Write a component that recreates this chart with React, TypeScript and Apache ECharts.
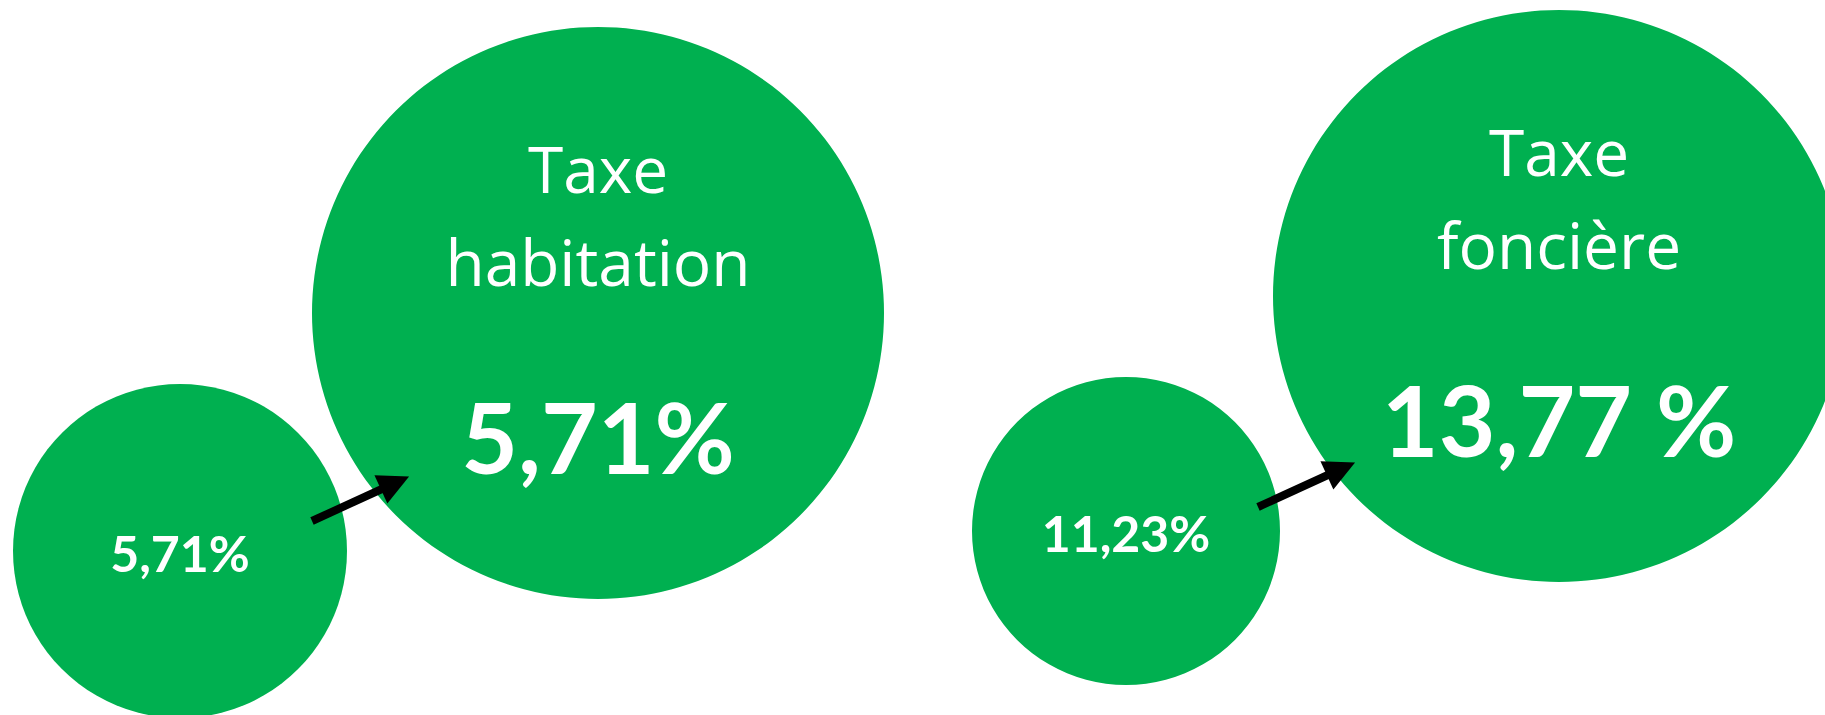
import React, { useEffect, useRef } from "react";
import * as echarts from "echarts";

// ---- data ----
const categories = ["Taxe habitation", "Taxe foncière"];
const titleLines = [
  ["Taxe", "habitation"],
  ["Taxe", "foncière"],
];
const rateBefore = [5.71, 11.23];
const rateAfter = [5.71, 13.77];
const afterSuffix = ["%", " %"];

// ---- layout (pixels of the 1825x715 page) ----
const W = 1825;
const H = 715;
const smallCenters = [
  [180, 551],
  [1126, 531],
];
const smallRadii = [167, 154];
const bigCenters = [
  [598, 313],
  [1559, 296],
];
const bigRadius = 286;
const arrowSegments = [
  [
    [312, 521],
    [395, 483],
  ],
  [
    [1258, 507],
    [1341, 469],
  ],
];

const GREEN = "#00B050";
const VALUE_FONT = "Lato";
const TITLE_FONT = "'Open Sans'";

const fmt = (v: number, suffix = "%") => v.toFixed(2).replace(".", ",") + suffix;

export default function App() {
  const ref = useRef<HTMLDivElement>(null);

  useEffect(() => {
    if (!ref.current) return;
    const chart = echarts.init(ref.current, undefined, { renderer: "svg" });

    const option = {
      animation: false,
      backgroundColor: "#ffffff",
      grid: { left: 0, right: 0, top: 0, bottom: 0 },
      xAxis: { type: "value", min: 0, max: W, show: false },
      yAxis: { type: "value", min: 0, max: H, inverse: true, show: false },
      series: [
        {
          name: "avant",
          type: "scatter",
          silent: true,
          z: 2,
          data: categories.map((c, i) => ({
            name: c,
            value: [smallCenters[i][0], smallCenters[i][1], rateBefore[i]],
            symbolSize: smallRadii[i] * 2,
          })),
          itemStyle: { color: GREEN, opacity: 1 },
          label: {
            show: true,
            position: "inside",
            offset: [0, 2],
            formatter: (p: any) => fmt(rateBefore[p.dataIndex]),
            color: "#ffffff",
            opacity: 1,
            textBorderWidth: 0,
            fontFamily: VALUE_FONT,
            fontWeight: "bold",
            fontSize: 50,
          },
        },
        {
          name: "après",
          type: "scatter",
          silent: true,
          z: 2,
          data: categories.map((c, i) => ({
            name: c,
            value: [bigCenters[i][0], bigCenters[i][1], rateAfter[i]],
            symbolSize: bigRadius * 2,
          })),
          itemStyle: { color: GREEN, opacity: 1 },
          label: {
            show: true,
            position: "inside",
            offset: [0, 123],
            formatter: (p: any) => fmt(rateAfter[p.dataIndex], afterSuffix[p.dataIndex]),
            color: "#ffffff",
            opacity: 1,
            textBorderWidth: 0,
            fontFamily: VALUE_FONT,
            fontWeight: "bold",
            fontSize: 98,
          },
        },
        {
          name: "titres",
          type: "scatter",
          silent: true,
          z: 3,
          symbolSize: 1,
          data: categories.map((c, i) => ({
            name: c,
            value: [bigCenters[i][0], bigCenters[i][1]],
          })),
          itemStyle: { color: "rgba(0,0,0,0)", opacity: 1 },
          label: {
            show: true,
            position: "inside",
            offset: [0, -98],
            formatter: (p: any) => titleLines[p.dataIndex].join("\n"),
            color: "#ffffff",
            opacity: 1,
            textBorderWidth: 0,
            fontFamily: TITLE_FONT,
            fontWeight: "normal",
            fontSize: 64,
            lineHeight: 93,
            align: "center",
          },
        },
        {
          name: "flèches",
          type: "lines",
          coordinateSystem: "cartesian2d",
          silent: true,
          z: 4,
          symbol: ["none", "triangle"],
          symbolSize: [31, 31],
          lineStyle: { color: "#000000", width: 8, opacity: 1 },
          data: arrowSegments.map((s) => ({ coords: s })),
        },
      ],
    };

    chart.setOption(option as any);
    return () => chart.dispose();
  }, []);

  return (
    <div
      ref={ref}
      style={{ position: "fixed", left: 0, top: 0, width: W + "px", height: H + "px" }}
    />
  );
}
